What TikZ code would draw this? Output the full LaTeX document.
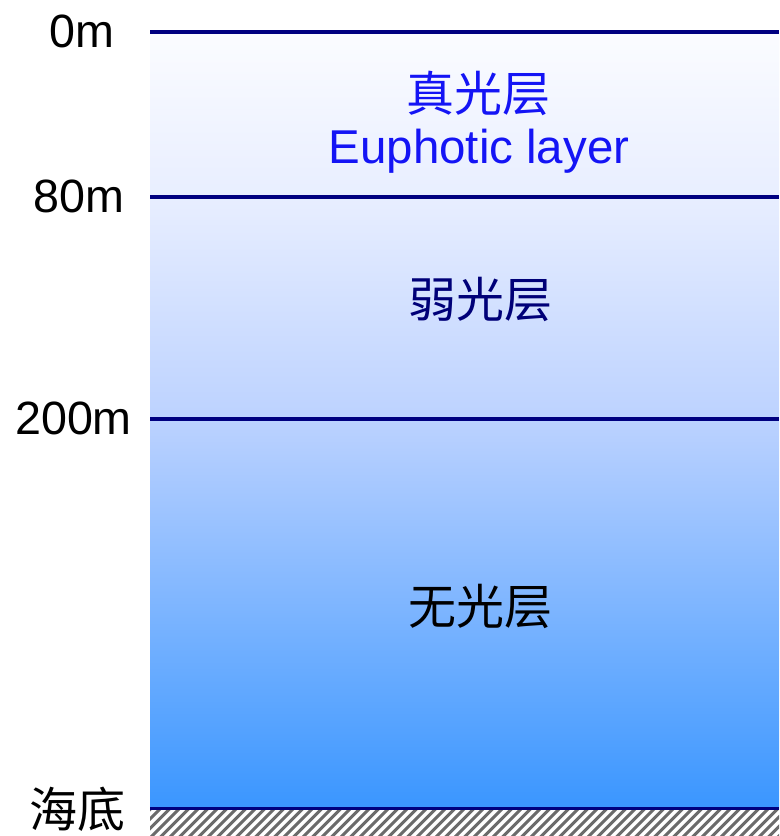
\documentclass[tikz,border=0pt]{standalone}
\usepackage{fontspec}
\setmainfont{Liberation Sans}
\newfontfamily\cjk{Noto Sans CJK SC}
\definecolor{navyline}{RGB}{0,0,128}
\definecolor{seaA}{RGB}{251,252,255}
\definecolor{seaB}{RGB}{232,238,255}
\definecolor{seaC}{RGB}{188,210,255}
\definecolor{seaD}{RGB}{58,150,255}
\definecolor{txtblue}{RGB}{20,20,245}
\definecolor{txtnavy}{RGB}{0,0,120}
\tikzset{
  depthline/.style={draw=navyline, line width=2.4pt},
  hatchline/.style={draw=black!58, line width=2.3pt},
  lbl/.style={anchor=base, inner sep=0pt, font=\fontsize{35}{40}\selectfont},
  eng/.style={anchor=base, inner sep=0pt, font=\fontsize{35.6}{40}\selectfont},
  zone/.style={anchor=base, inner sep=0pt, font=\fontsize{36}{40}\selectfont\cjk}
}
\begin{document}
\begin{tikzpicture}[x=0.75pt,y=-0.75pt]
\useasboundingbox (0,0) rectangle (779,836);
\fill[white] (0,0) rectangle (779,836);
% sea gradient
\shade[top color=seaA, bottom color=seaB] (150,32) rectangle (779,197);
\shade[top color=seaB, bottom color=seaC] (150,197) rectangle (779,419);
\shade[top color=seaC, bottom color=seaD] (150,419) rectangle (779,808);
% sea floor hatch
\begin{scope}
  \clip (150,809) rectangle (779,836);
  \foreach \x in {110,119.5,...,800} { \draw[hatchline] (\x,840) -- ++(40,-40); }
\end{scope}
% depth lines
\draw[depthline] (150,32) -- (779,32);
\draw[depthline] (150,197) -- (779,197);
\draw[depthline] (150,419) -- (779,419);
\draw[depthline] (150,808.5) -- (779,808.5);
% depth labels
\node[lbl] (d0) at (81.5,47) {0m};
\node[lbl] (d80) at (78.5,212) {80m};
\node[lbl] (d200) at (73.5,434) {200m};
\node[zone] (dfloor) at (77,827) {海底};
% zone labels
\node[zone, text=txtblue] (z1) at (478,111) {真光层};
\node[eng, text=txtblue] (z1e) at (479,163) {Euphotic layer};
\node[zone, text=txtnavy] (z2) at (480,317) {弱光层};
\node[zone, text=black] (z3) at (480,624) {无光层};
\end{tikzpicture}
\end{document}
